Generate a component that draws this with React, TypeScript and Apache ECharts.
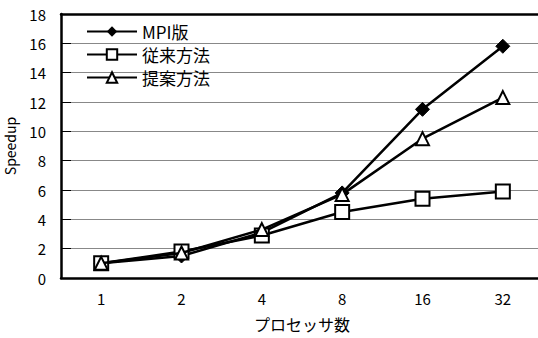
import React, { useEffect, useRef } from "react";
import * as echarts from "echarts";

const categories = ["1", "2", "4", "8", "16", "32"];
const mpiValues = [1.0, 1.5, 3.1, 5.8, 11.5, 15.8];
const conventionalValues = [1.0, 1.8, 2.9, 4.5, 5.4, 5.9];
const proposedValues = [1.0, 1.7, 3.3, 5.7, 9.5, 12.3];
const seriesNames = ["MPI版", "従来方法", "提案方法"];

const FONT = "'Noto Sans CJK JP', 'Noto Sans', sans-serif";

export default function App() {
  const ref = useRef<HTMLDivElement>(null);
  useEffect(() => {
    if (!ref.current) return;
    const chart = echarts.init(ref.current, undefined, { renderer: "svg" });
    const lineStyle = { color: "#000", width: 2.5 };
    chart.setOption({
      animation: false,
      backgroundColor: "#fff",
      textStyle: { fontFamily: FONT, color: "#000" },
      grid: { left: 61, width: 482, top: 14, bottom: 60, outerBoundsMode: "none", containLabel: false },
      legend: {
        orient: "vertical",
        left: 81,
        top: 18,
        itemWidth: 50,
        itemHeight: 13,
        itemGap: 6,
        textStyle: { fontFamily: FONT, fontSize: 17, color: "#000" },
        data: seriesNames,
      },
      xAxis: [
        {
          type: "category",
          data: categories,
          boundaryGap: true,
          name: "プロセッサ数",
          nameLocation: "middle",
          nameGap: 38,
          nameTextStyle: { fontFamily: FONT, fontSize: 16, color: "#000" },
          axisLine: { lineStyle: { color: "#000", width: 2.5 } },
          axisTick: { inside: true, length: 4, lineStyle: { color: "#000" } },
          axisLabel: { fontFamily: FONT, fontSize: 15, color: "#000", margin: 13 },
        },
        {
          type: "category",
          data: categories,
          position: "top",
          axisLine: { show: true, lineStyle: { color: "#000", width: 2.5 } },
          axisTick: { show: false },
          axisLabel: { show: false },
        },
      ],
      yAxis: {
        type: "value",
        min: 0,
        max: 18,
        interval: 2,
        name: "Speedup",
        nameLocation: "middle",
        nameGap: 44,
        nameTextStyle: { fontFamily: FONT, fontSize: 14, color: "#000" },
        axisLine: { show: true, lineStyle: { color: "#000", width: 2.5 } },
        axisTick: { show: true, inside: true, length: 10, lineStyle: { color: "#000" } },
        axisLabel: { fontFamily: FONT, fontSize: 15, color: "#000", margin: 15 },
        splitLine: { show: true, lineStyle: { color: "#888", width: 1 } },
      },
      series: [
        {
          name: seriesNames[0],
          type: "line",
          data: mpiValues,
          symbol: "diamond",
          symbolSize: 14,
          itemStyle: { color: "#000", borderColor: "#000" },
          lineStyle,
          z: 3,
        },
        {
          name: seriesNames[1],
          type: "line",
          data: conventionalValues,
          symbol: "rect",
          symbolSize: 14,
          itemStyle: { color: "#fff", borderColor: "#000", borderWidth: 2 },
          lineStyle,
          z: 4,
        },
        {
          name: seriesNames[2],
          type: "line",
          data: proposedValues,
          symbol: "triangle",
          symbolSize: 13,
          itemStyle: { color: "#fff", borderColor: "#000", borderWidth: 2 },
          lineStyle,
          z: 5,
        },
      ],
    });
    return () => chart.dispose();
  }, []);
  return <div ref={ref} style={{ width: 538, height: 338, position: "absolute", left: 0, top: 0 }} />;
}
